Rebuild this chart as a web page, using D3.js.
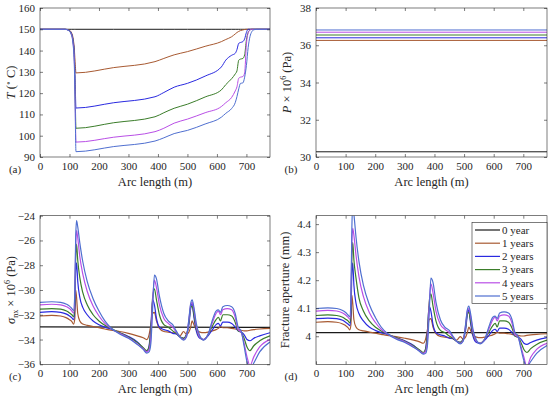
<!DOCTYPE html>
<html><head><meta charset="utf-8">
<script src="https://cdn.jsdelivr.net/npm/d3@7"></script>
<style>
body{margin:0;background:#fff}
svg text{font-family:"Liberation Serif","Times New Roman","DejaVu Serif",serif !important;fill:#262626}
</style></head><body>
<svg id="chart" width="550" height="397" font-family="Liberation Serif, serif"></svg>
<script>
// ---------- data ----------
const seriesNames = ["0 year","1 years","2 years","3 years","4 years","5 years"];
const seriesColors = ["#1a1a1a","#a85a32","#2a2ae0","#3b7d2a","#b94fe6","#4f6fd0"];
const xTicks = [0,100,200,300,400,500,600,700];

// (a) temperature
const arcA = [0,85,98,106,112,116,119,122,250,390,420,455,500,560,615,630,650,662,668,674,680,688,694,700,706,712,718,726,740,780];
const temp0 = [150,150,150,150,150,150,150,150,150,150,150,150,150,150,150,150,150,150,150,150,150,150,150,150,150,150,150,150,150,150];
const temp1 = [150,150,149.7,148.6,146,141.5,135,129.5,132.0,134.8,136.3,138.0,139.5,142.0,144.2,145.2,146.5,147.8,148.5,149.0,149.4,149.7,149.9,150,150,150,150,150,150,150];
const temp2 = [150,150,149.6,148.3,145,139.5,127,113,115.5,118.3,120.3,122.8,124.6,128.0,132.3,135.5,137.8,138.7,140.5,143.4,143.8,144.2,145.5,148.5,150,150,150,150,150,150];
const temp3 = [150,150,149.5,148,144.5,138,122,103.5,106.1,108.9,110.8,112.9,114.8,118.2,121.5,124.0,126.8,129.0,130.5,135.5,136.0,136.3,138.0,145.0,148.6,149.7,150,150,150,150];
const temp4 = [150,150,149.4,147.8,143.8,137,118,97,99.3,101.9,103.5,105.9,107.8,110.8,113.7,115.5,118.0,121.0,123.0,127.0,127.5,127.8,129.5,143.0,148.3,149.6,150,150,150,150];
const temp5 = [150,150,149.3,147.5,143,135,115,92.5,94.9,97.5,99.0,101.0,102.5,105.5,108.7,110.5,112.8,115.5,118.4,122.0,124.6,124.8,127.5,133.0,141.5,146.5,148.8,149.8,150,150];
const tempTicks = [90,100,110,120,130,140,150,160];

// (b) pressure (constant along the fracture)
const arcB = [0,780];
const pressure = [30.28,36.26,36.40,36.55,36.70,36.82];
const pressTicks = [30,32,34,36,38];

// (c) normal stress and (d) aperture
const arcC = [0,40,70,90,100,108,114,118,121,124,128,135,145,160,180,200,220,240,270,300,330,350,362,370,376,382,388,395,405,420,435,450,462,475,487,497,505,511,516,522,530,542,555,570,585,597,605,612,620,635,650,662,672,682,692,702,712,725,745,780];
const arcBlack = [0,780];
const stress0 = [-32.98,-33.02];
const stress1 = [-32.1,-32.05,-32.1,-32.25,-32.4,-32.55,-32.75,-32.3,-30.0,-30.6,-31.9,-32.5,-32.75,-32.85,-32.95,-33.05,-33.15,-33.25,-33.35,-33.5,-33.7,-33.85,-34.0,-33.6,-32.8,-31.9,-31.8,-32.5,-33.1,-33.35,-33.4,-33.45,-33.5,-33.7,-33.35,-33.6,-33.4,-33.0,-32.5,-32.8,-33.2,-33.4,-33.45,-33.4,-33.3,-33.2,-33.1,-32.95,-33.05,-33.05,-33.1,-33.15,-33.2,-33.25,-33.3,-33.3,-33.25,-33.2,-33.15,-33.1];
const stress2 = [-31.8,-31.75,-31.8,-31.95,-32.1,-32.25,-32.4,-31.5,-28.5,-27.8,-29.3,-30.6,-31.4,-32.0,-32.5,-32.8,-33.0,-33.15,-33.45,-33.75,-34.2,-34.7,-35.0,-34.5,-33.0,-30.8,-31.2,-32.3,-33.0,-33.2,-33.3,-33.5,-33.55,-33.8,-33.9,-33.6,-32.8,-31.5,-31.1,-32.2,-33.3,-33.9,-34.0,-33.7,-33.2,-32.8,-32.7,-32.9,-32.6,-32.6,-32.7,-33.0,-33.3,-33.4,-33.6,-34.0,-34.1,-33.9,-33.7,-33.45];
const stress3 = [-31.55,-31.5,-31.55,-31.7,-31.85,-32.0,-32.15,-31.0,-27.5,-26.3,-27.6,-29.0,-30.2,-31.2,-32.0,-32.5,-32.85,-33.1,-33.45,-33.8,-34.25,-34.65,-34.9,-34.6,-33.2,-30.6,-29.9,-30.8,-32.0,-32.8,-33.0,-33.3,-33.5,-33.8,-33.9,-33.6,-32.6,-31.4,-31.3,-32.0,-33.1,-33.8,-34.0,-33.6,-32.9,-32.4,-32.2,-32.5,-32.0,-32.0,-32.1,-32.6,-33.3,-33.4,-33.9,-34.6,-34.9,-34.5,-34.1,-33.7];
const stress4 = [-31.2,-31.15,-31.2,-31.35,-31.5,-31.7,-31.85,-30.5,-26.5,-25.2,-25.8,-27.3,-28.7,-30.1,-31.3,-32.1,-32.7,-33.1,-33.5,-33.85,-34.35,-34.75,-35.0,-34.8,-33.8,-30.8,-29.2,-29.8,-31.2,-32.3,-32.7,-33.0,-33.4,-33.8,-34.0,-33.7,-32.4,-31.2,-31.0,-31.6,-32.9,-33.8,-34.0,-33.6,-32.6,-31.9,-31.7,-32.0,-31.6,-31.5,-31.6,-32.2,-33.2,-33.4,-34.3,-35.4,-36.1,-35.4,-34.6,-34.0];
const stress5 = [-31.0,-30.95,-31.0,-31.15,-31.3,-31.5,-31.65,-30.2,-25.8,-24.4,-24.9,-26.2,-27.7,-29.3,-30.7,-31.7,-32.5,-33.05,-33.55,-33.9,-34.4,-34.8,-35.1,-35.0,-34.3,-31.5,-28.8,-29.1,-30.5,-31.9,-32.5,-32.8,-33.3,-33.8,-34.05,-33.8,-32.3,-31.1,-30.8,-31.4,-32.7,-33.7,-34.05,-33.6,-32.4,-31.7,-31.6,-31.8,-31.35,-31.25,-31.35,-31.9,-33.0,-33.3,-34.5,-35.8,-36.4,-35.9,-35.0,-34.2];
const stressTicks = [-36,-34,-32,-30,-28,-26,-24];

const aper0 = [4.013,4.013];
const aper1 = [4.050,4.052,4.050,4.044,4.038,4.031,4.023,4.042,4.147,4.118,4.059,4.033,4.023,4.019,4.015,4.011,4.007,4.003,3.999,3.993,3.986,3.980,3.975,3.990,4.021,4.059,4.063,4.033,4.009,3.999,3.997,3.995,3.993,3.986,3.999,3.990,3.997,4.013,4.033,4.021,4.005,3.997,3.995,3.997,4.001,4.005,4.009,4.015,4.011,4.011,4.009,4.007,4.005,4.003,4.001,4.001,4.003,4.005,4.007,4.009];
const aper2 = [4.063,4.065,4.063,4.057,4.050,4.044,4.038,4.076,4.223,4.262,4.182,4.118,4.081,4.055,4.033,4.021,4.013,4.007,3.995,3.984,3.967,3.949,3.939,3.956,4.013,4.108,4.090,4.042,4.013,4.005,4.001,3.993,3.991,3.982,3.978,3.990,4.021,4.076,4.094,4.046,4.001,3.978,3.975,3.986,4.005,4.021,4.025,4.017,4.029,4.029,4.025,4.013,4.001,3.997,3.990,3.975,3.971,3.978,3.986,3.995];
const aper3 = [4.074,4.076,4.074,4.068,4.061,4.055,4.048,4.099,4.278,4.335,4.272,4.208,4.137,4.090,4.055,4.033,4.019,4.009,3.995,3.982,3.965,3.951,3.942,3.953,4.005,4.118,4.151,4.108,4.055,4.021,4.013,4.001,3.993,3.982,3.978,3.990,4.029,4.081,4.085,4.055,4.009,3.982,3.975,3.990,4.017,4.038,4.046,4.033,4.055,4.055,4.050,4.029,4.001,3.997,3.978,3.953,3.942,3.956,3.971,3.986];
const aper4 = [4.090,4.092,4.090,4.083,4.076,4.068,4.061,4.122,4.336,4.385,4.360,4.290,4.213,4.142,4.085,4.050,4.025,4.009,3.993,3.980,3.962,3.947,3.939,3.946,3.982,4.108,4.187,4.156,4.090,4.042,4.025,4.013,3.997,3.982,3.975,3.986,4.038,4.090,4.099,4.072,4.017,3.982,3.975,3.990,4.029,4.059,4.068,4.055,4.072,4.076,4.072,4.046,4.005,3.997,3.964,3.925,3.892,3.925,3.953,3.975];
const aper5 = [4.099,4.101,4.099,4.092,4.085,4.076,4.070,4.137,4.380,4.470,4.435,4.355,4.267,4.182,4.113,4.068,4.033,4.011,3.990,3.978,3.960,3.946,3.936,3.939,3.964,4.076,4.207,4.192,4.122,4.059,4.033,4.021,4.001,3.982,3.973,3.982,4.042,4.094,4.108,4.081,4.025,3.986,3.973,3.990,4.038,4.068,4.072,4.063,4.083,4.087,4.083,4.059,4.013,4.001,3.956,3.913,3.890,3.910,3.939,3.967];
const aperTicks = [4,4.1,4.2,4.3,4.4];

// ---------- drawing ----------
const FONT = "Liberation Serif, Times New Roman, DejaVu Serif, serif";
const svg = d3.select("#chart");
const TICK = 3;

function drawPanel(cfg){
  const g = svg.append("g");
  const x = d3.scaleLinear().domain([0,780]).range([cfg.x0,cfg.x1]);
  const y = d3.scaleLinear().domain(cfg.ydom).range([cfg.y1,cfg.y0]);
  const clipId = "clip-"+cfg.id;
  svg.append("clipPath").attr("id",clipId).append("rect")
     .attr("x",cfg.x0).attr("y",cfg.y0).attr("width",cfg.x1-cfg.x0).attr("height",cfg.y1-cfg.y0);
  g.append("rect").attr("x",cfg.x0).attr("y",cfg.y0).attr("width",cfg.x1-cfg.x0).attr("height",cfg.y1-cfg.y0)
   .attr("fill","#fff");
  const lg = g.append("g").attr("clip-path",`url(#${clipId})`);
  cfg.series.forEach((s,i)=>{
    const line = d3.line().x((d,j)=>x(s.xs[j])).y(d=>y(d)).curve(d3.curveMonotoneX);
    lg.append("path").attr("d",line(s.ys)).attr("fill","none")
      .attr("stroke",seriesColors[i]).attr("stroke-width",cfg.lw||1);
  });
  // axes (MATLAB style inward ticks, box)
  const ax = g.append("g").attr("transform",`translate(0,${cfg.y1})`)
    .call(d3.axisBottom(x).tickValues(xTicks).tickSize(-TICK).tickPadding(5).tickFormat(d3.format("d")));
  const axT = g.append("g").attr("transform",`translate(0,${cfg.y0})`)
    .call(d3.axisTop(x).tickValues(xTicks).tickSize(-TICK).tickFormat(""));
  const ay = g.append("g").attr("transform",`translate(${cfg.x0},0)`)
    .call(d3.axisLeft(y).tickValues(cfg.yticks).tickSize(-TICK).tickPadding(5).tickFormat(cfg.yfmt));
  const ayR = g.append("g").attr("transform",`translate(${cfg.x1},0)`)
    .call(d3.axisRight(y).tickValues(cfg.yticks).tickSize(-TICK).tickFormat(""));
  [ax,axT,ay,ayR].forEach(a=>{
    a.attr("font-family",FONT);
    a.select(".domain").remove();
    a.selectAll(".tick line").attr("stroke","#262626").attr("stroke-width",0.6);
    a.selectAll("text").attr("font-size",11).attr("fill","#262626").attr("font-family",FONT);
  });
  g.append("rect").attr("x",cfg.x0).attr("y",cfg.y0).attr("width",cfg.x1-cfg.x0).attr("height",cfg.y1-cfg.y0)
   .attr("fill","none").attr("stroke","#262626").attr("stroke-width",0.6);
  // panel letter
  g.append("text").attr("x",cfg.x0-25).attr("y",cfg.y1+15.5).attr("font-size",11).attr("font-family",FONT)
   .attr("text-anchor","middle").text(`(${cfg.id})`);
  // x label
  g.append("text").attr("x",(cfg.x0+cfg.x1)/2).attr("y",cfg.y1+29).attr("font-size",12.5).attr("font-family",FONT)
   .attr("text-anchor","middle").text("Arc length (m)");
  // y label
  const yl = g.append("text").attr("font-size",12.5).attr("text-anchor","middle").attr("font-family",FONT)
    .attr("transform",`translate(${cfg.ylx},${(cfg.y0+cfg.y1)/2}) rotate(-90)`);
  cfg.ylabel(yl);
  return {x,y,g};
}

function series(xsList, ysList){ return ysList.map((ys,i)=>({xs:xsList[i], ys})); }

drawPanel({id:"a",x0:40,x1:270,y0:8,y1:157,ydom:[90,160],yticks:tempTicks,yfmt:d3.format("d"),ylx:15,lw:1,
  series: series([arcA,arcA,arcA,arcA,arcA,arcA],[temp0,temp1,temp2,temp3,temp4,temp5]),
  ylabel: t=>{ t.append("tspan").attr("font-style","italic").text("T");
    t.append("tspan").text(" (");
    t.append("tspan").attr("font-size",8).attr("dy",-4).text("∘");
    t.append("tspan").attr("dy",4).text(" C)"); }});

drawPanel({id:"b",x0:316,x1:547,y0:8,y1:157,ydom:[30,38],yticks:pressTicks,yfmt:d3.format("d"),ylx:291,lw:1,
  series: pressure.map(p=>({xs:arcB, ys:[p,p]})),
  ylabel: t=>{ t.append("tspan").attr("font-style","italic").text("P");
    t.append("tspan").text(" × 10");
    t.append("tspan").attr("font-size",8).attr("dy",-5).text("6");
    t.append("tspan").attr("dy",5).text(" (Pa)"); }});

drawPanel({id:"c",x0:40,x1:270,y0:215.7,y1:364.3,ydom:[-36,-24],yticks:stressTicks,yfmt:d3.format("d"),ylx:15,lw:1.2,
  series: series([arcBlack,arcC,arcC,arcC,arcC,arcC],[stress0,stress1,stress2,stress3,stress4,stress5]),
  ylabel: t=>{ t.append("tspan").attr("font-style","italic").text("σ");
    t.append("tspan").attr("font-size",8).attr("dy",3).text("nx");
    t.append("tspan").attr("dy",-3).text(" × 10");
    t.append("tspan").attr("font-size",8).attr("dy",-5).text("6");
    t.append("tspan").attr("dy",5).text(" (Pa)"); }});

drawPanel({id:"d",x0:316,x1:547,y0:215.7,y1:364.3,ydom:[3.9,4.43],yticks:aperTicks,yfmt:d3.format(".2~f"),ylx:289,lw:1.2,
  series: series([arcBlack,arcC,arcC,arcC,arcC,arcC],[aper0,aper1,aper2,aper3,aper4,aper5]),
  ylabel: t=>{ t.text("Fracture aperture (mm)"); }});

// legend
const lgX0 = 472, lgY0 = 222.5, lgW = 75, lgH = 81, rowH = 13.2;
const leg = svg.append("g");
leg.append("rect").attr("x",lgX0).attr("y",lgY0).attr("width",lgW).attr("height",lgH)
   .attr("fill","#fff").attr("stroke","#262626").attr("stroke-width",0.6);
seriesNames.forEach((n,i)=>{
  const yy = lgY0 + 7.5 + i*rowH;
  leg.append("line").attr("x1",lgX0+3).attr("x2",lgX0+28).attr("y1",yy).attr("y2",yy)
     .attr("stroke",seriesColors[i]).attr("stroke-width",1.2);
  leg.append("text").attr("x",lgX0+30).attr("y",yy+3.8).attr("font-size",11).attr("font-family",FONT).text(n);
});
</script></body></html>
